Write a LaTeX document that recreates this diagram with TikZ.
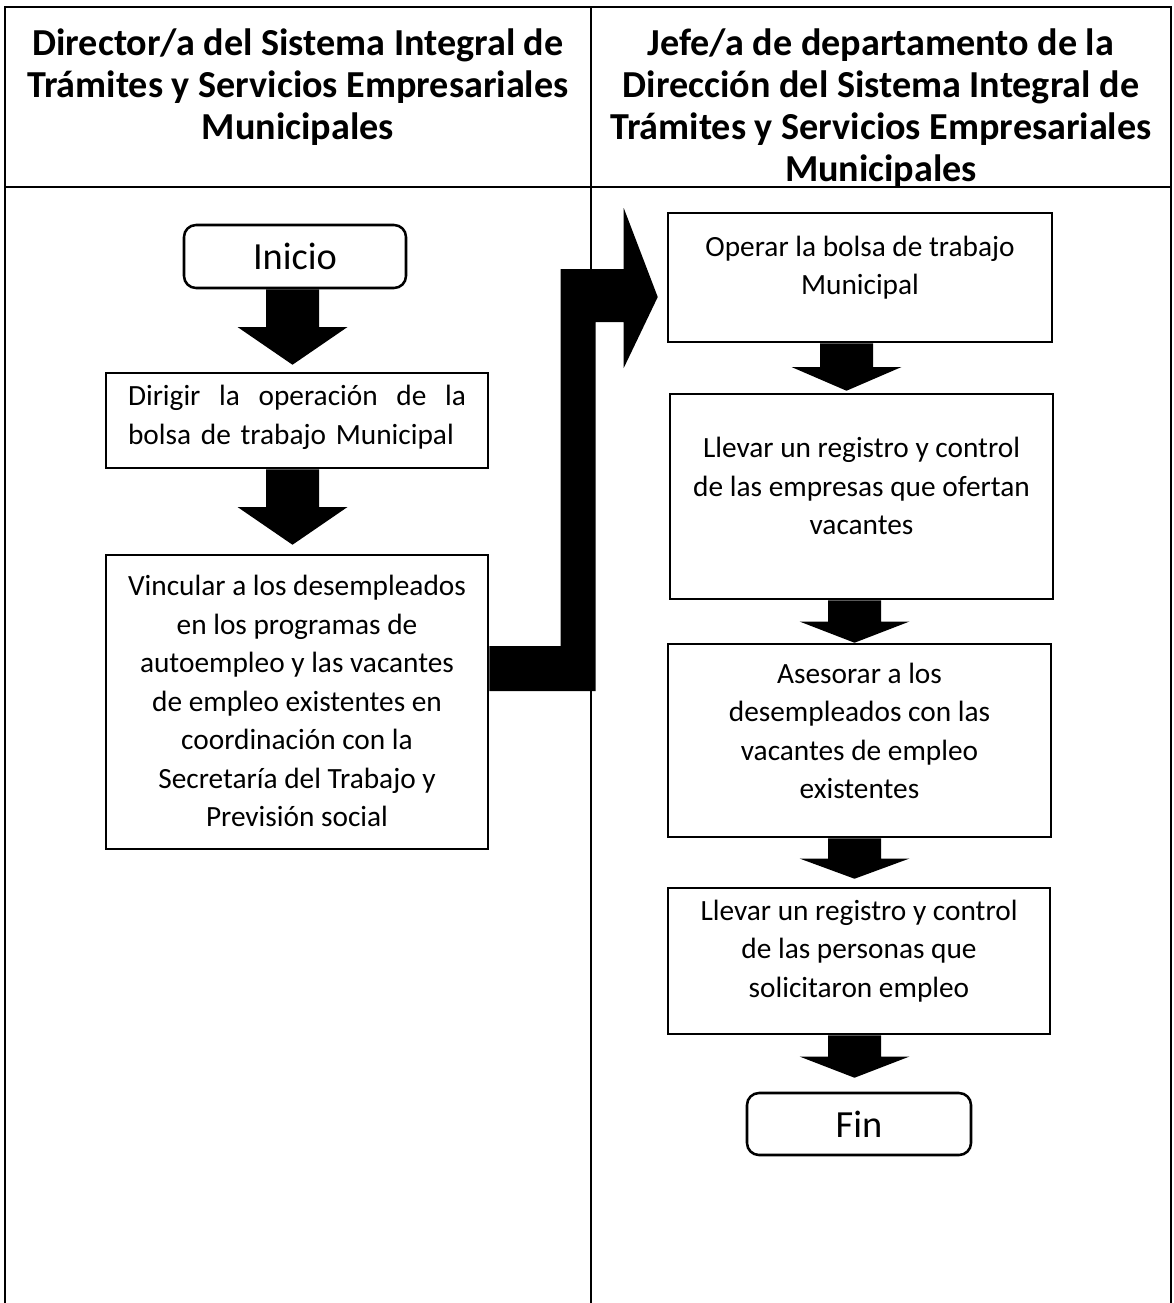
\documentclass[tikz,border=0pt]{standalone}
\usepackage{fontspec}
\setmainfont{Carlito}
\usetikzlibrary{calc}
\tikzset{
  tbl/.style={line width=1.5pt},
  hdrline/.style={line width=2.2pt},
  procbox/.style={draw, line width=1.9pt, rectangle, inner sep=0pt},
  termbox/.style={draw, line width=1.9pt, rectangle, rounded corners=9pt, inner sep=0pt,
    font=\fontsize{28.8}{34}\selectfont},
  bodytext/.style={align=center, inner sep=0pt, font=\fontsize{22}{28.9}\selectfont},
  headtext/.style={align=center, inner sep=0pt, anchor=north,
    font=\bfseries\fontsize{28.6}{31.5}\selectfont},
  blk/.style={fill=black, draw=none}
}
% block arrow from node #1 (south) to node #2 (north); #3 = x shift, #4 = gap before target
\newcommand{\blockarrow}[4]{%
  \coordinate (ba-s) at ($(#1.south)+(#3,0)$);
  \coordinate (ba-t) at ($(#2.north)+(#3,-#4)$);
  \coordinate (ba-mm) at ($(ba-s)!.5!(ba-t)$);
  \coordinate (ba-m) at (ba-s |- ba-mm);
  \fill[blk] ($(ba-s)+(-26.5,0)$) -- ($(ba-s)+(26.5,0)$) -- ($(ba-m)+(26.5,0)$)
    -- ($(ba-m)+(55,0)$) -- (ba-s |- ba-t) -- ($(ba-m)+(-55,0)$)
    -- ($(ba-m)+(-26.5,0)$) -- cycle;}
\begin{document}
\begin{tikzpicture}[x=0.75pt,y=-0.75pt]
\useasboundingbox (0,0) rectangle (1174,1303);
\fill[white] (0,0) rectangle (1174,1303);

% table frame
\draw[tbl] (5,1303) -- (5,7) -- (1171,7) -- (1171,1303);
\draw[tbl] (591,7) -- (591,1303);
\draw[hdrline] (5,187) -- (1171,187);

% headers
\node[headtext] (h1) at (298,28) {Director/a del Sistema Integral de\\Trámites y Servicios Empresariales\\Municipales};
\node[headtext] (h2) at (881,28) {Jefe/a de departamento de la\\Dirección del Sistema Integral de\\Trámites y Servicios Empresariales\\Municipales};

% left column
\node[termbox, minimum width=166.5pt, minimum height=47.25pt] (ini) at (295,256.5) {Inicio};
\node[procbox, minimum width=286.5pt, minimum height=71.25pt] (dir) at (297,420.5) {};
\node[bodytext, align=left, text width=253.5pt] (dir-t) at ($(dir.center)+(0,-3)$)
  {Dirigir\hfill la\hfill operación\hfill de\hfill la\\bolsa de trabajo Municipal};
\node[procbox, minimum width=286.5pt, minimum height=220.5pt] (vin) at (297,702) {};
\node[bodytext] (vin-t) at ($(vin.center)+(0,-1)$)
  {Vincular a los desempleados\\en los programas de\\autoempleo y las vacantes\\de empleo existentes en\\coordinación con la\\Secretaría del Trabajo y\\Previsión social};

% right column
\node[procbox, minimum width=288pt, minimum height=96.75pt] (op) at (860,277.5) {};
\node[bodytext] (op-t) at ($(op.center)+(0,-10)$) {Operar la bolsa de trabajo\\Municipal};
\node[procbox, minimum width=287.25pt, minimum height=153.75pt] (ll1) at (861.5,496.5) {};
\node[bodytext] (ll1-t) at ($(ll1.center)+(0,-10.5)$) {Llevar un registro y control\\de las empresas que ofertan\\vacantes};
\node[procbox, minimum width=287.25pt, minimum height=144.75pt] (as) at (859.5,740.5) {};
\node[bodytext] (as-t) at ($(as.center)+(0,-9.5)$) {Asesorar a los\\desempleados con las\\vacantes de empleo\\existentes};
\node[procbox, minimum width=286.5pt, minimum height=109.5pt] (ll2) at (859,961) {};
\node[bodytext] (ll2-t) at ($(ll2.center)+(0,-10)$) {Llevar un registro y control\\de las personas que\\solicitaron empleo};
\node[termbox, minimum width=168pt, minimum height=46.5pt] (fin) at (859,1124) {Fin};

% block arrows
\blockarrow{ini}{dir}{-2.5}{7}
\blockarrow{dir}{vin}{-4.5}{9}
\blockarrow{op}{ll1}{-13.5}{2}
\blockarrow{ll1}{as}{-7}{0}
\blockarrow{as}{ll2}{-5}{8}
\blockarrow{ll2}{fin}{-4.5}{14}

% elbow block arrow from vin to op
\coordinate (e1) at ($(vin.east)+(0,-56)$);
\coordinate (e2) at ($(vin.east)+(0,-11)$);
\coordinate (et) at ($(op.west)+(-9,19.5)$);
\coordinate (aT) at ($(et)+(-97,-28)$);
\coordinate (hT) at ($(et)+(-34,-89)$);
\coordinate (hB) at ($(et)+(-34,71)$);
\coordinate (aB) at ($(et)+(-62,25)$);
\fill[blk] (e1) -- (e1 -| aT) -- (aT) -- (aT -| hT) -- (hT) -- (et) -- (hB)
  -- (aB -| hB) -- (aB) -- (aB |- e2) -- (e2) -- cycle;
\end{tikzpicture}
\end{document}
